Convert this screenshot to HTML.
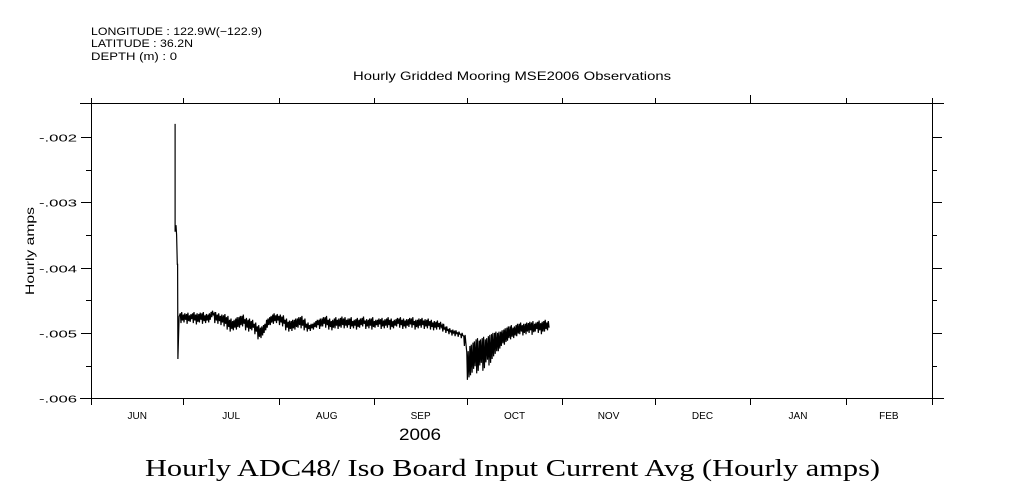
<!DOCTYPE html>
<html><head><meta charset="utf-8"><style>
html,body{margin:0;padding:0;background:#fff;}
svg{display:block;}
text{font-family:"Liberation Sans",sans-serif;fill:#000;}
</style></head><body>
<svg id="chart" width="1009" height="504" viewBox="0 0 1009 504">
<g font-size="11">
<text x="91" y="35" textLength="171" lengthAdjust="spacingAndGlyphs">LONGITUDE : 122.9W(−122.9)</text>
<text x="91" y="47" textLength="102" lengthAdjust="spacingAndGlyphs">LATITUDE : 36.2N</text>
<text x="91" y="60" textLength="86" lengthAdjust="spacingAndGlyphs">DEPTH (m) : 0</text>
</g>
<text x="353" y="80" font-size="12" textLength="318" lengthAdjust="spacingAndGlyphs">Hourly Gridded Mooring MSE2006 Observations</text>
<text x="34" y="251" font-size="12" text-anchor="middle" textLength="88" lengthAdjust="spacingAndGlyphs" transform="rotate(-90 34 251)">Hourly amps</text>
<text x="399" y="440" font-size="17" textLength="42" lengthAdjust="spacingAndGlyphs">2006</text>
<text x="145" y="476" font-size="24" textLength="735" lengthAdjust="spacingAndGlyphs" style="font-family:'Liberation Serif',serif">Hourly ADC48/ Iso Board Input Current Avg (Hourly amps)</text>
<g id="axes" stroke="#000" stroke-width="1" fill="none"></g>
<g id="labels" font-size="10"></g>
<path id="series" fill="none" stroke="#000" stroke-width="1.2"/>
</svg>
<script>
// tick labels / categories
const monthLabels = ["JUN","JUL","AUG","SEP","OCT","NOV","DEC","JAN","FEB"];
const monthLengths = [30,31,31,30,31,30,31,31,28];
const yTickValues = [-2,-3,-4,-5,-6];
const yTickLabels = ["-.002","-.003","-.004","-.005","-.006"];
// initial transient (day offset from Jun 1, value in milliamps)
const spikeDays = [27.3,27.3,27.6,27.8,28.0,28.1,28.2,28.6];
const spikeVals = [-1.8,-3.45,-3.35,-3.5,-3.95,-3.95,-5.4,-4.75];
// daily envelope starting at day 29
const startDay = 29;
const dailyHigh = [-4.70,-4.72,-4.71,-4.73,-4.70,-4.72,-4.71,-4.70,-4.73,-4.72,-4.68,-4.70,
-4.72,-4.74,-4.73,-4.76,-4.80,-4.82,-4.78,-4.76,-4.74,-4.79,-4.80,
-4.82,-4.86,-4.90,-4.92,-4.88,-4.80,-4.76,
-4.72,-4.73,-4.74,-4.75,-4.80,-4.83,-4.82,-4.80,
-4.78,-4.76,-4.80,-4.86,-4.88,-4.86,-4.82,-4.80,-4.78,-4.76,-4.80,-4.82,-4.78,-4.80,-4.77,-4.78,
-4.80,-4.78,-4.82,-4.79,-4.80,-4.77,-4.81,-4.80,-4.78,-4.82,-4.80,-4.79,-4.81,-4.78,-4.80,-4.82,-4.79,-4.78,-4.80,-4.81,-4.79,-4.78,-4.82,-4.80,-4.79,-4.81,-4.80,-4.82,-4.84,-4.83,
-4.85,-4.88,-4.92,-4.95,-4.97,-4.98,-5.00,-5.02,-5.05,
-5.30,-5.20,-5.15,-5.10,-5.12,-5.08,-5.10,-5.05,-5.02,-5.00,
-5.00,-4.98,-4.95,-4.92,-4.90,-4.92,-4.88,-4.86,-4.88,
-4.86,-4.85,-4.84,-4.86,-4.83,-4.85,-4.82,-4.84];
const dailyLow = [-4.85,-4.84,-4.86,-4.83,-4.85,-4.87,-4.84,-4.86,-4.85,-4.84,-4.76,-4.85,
-4.86,-4.88,-4.90,-4.95,-4.98,-4.96,-4.95,-4.92,-4.90,-4.96,-4.98,
-4.96,-5.02,-5.10,-5.08,-5.00,-4.92,-4.88,
-4.86,-4.85,-4.88,-4.90,-4.96,-4.98,-4.97,-4.95,
-4.92,-4.93,-4.96,-4.98,-4.97,-4.95,-4.92,-4.94,-4.90,-4.92,-4.95,-4.96,-4.93,-4.94,-4.92,-4.93,
-4.92,-4.94,-4.93,-4.95,-4.92,-4.90,-4.94,-4.93,-4.95,-4.92,-4.91,-4.94,-4.93,-4.92,-4.95,-4.93,-4.90,-4.92,-4.94,-4.93,-4.91,-4.92,-4.95,-4.93,-4.92,-4.94,-4.93,-4.95,-4.96,-4.95,
-4.95,-4.98,-5.00,-5.02,-5.04,-5.05,-5.06,-5.08,-5.20,
-5.72,-5.65,-5.55,-5.62,-5.50,-5.58,-5.45,-5.50,-5.40,-5.32,
-5.28,-5.20,-5.18,-5.12,-5.10,-5.08,-5.05,-5.02,-5.04,
-5.02,-5.00,-5.03,-4.98,-5.00,-5.02,-4.98,-4.96];

const X0=91, X1=932, Y0=103, Y1=398, totalDays=273;
const xs = d => X0 + d*(X1-X0)/totalDays;
const ys = v => 137 + (-2 - v)*65.3;
const NS="http://www.w3.org/2000/svg";
const axes=document.getElementById('axes'), labels=document.getElementById('labels');
function line(x1,y1,x2,y2,name){
  const l=document.createElementNS(NS,'line');
  l.setAttribute('x1',x1);l.setAttribute('y1',y1);l.setAttribute('x2',x2);l.setAttribute('y2',y2);
  
  
  axes.appendChild(l);
}
line(80,Y0+0.5,944,Y0+0.5,'top-axis');
line(80,Y1+0.5,944,Y1+0.5,'bottom-axis');
line(X0+0.5,Y0,X0+0.5,Y1,'left-axis');
line(X1+0.5,Y0,X1+0.5,Y1,'right-axis');
let d=0;
for(let i=0;i<=monthLabels.length;i++){
  const x=Math.round(xs(d))+0.5;
  line(x,i===7?95:98,x,Y0,'top-tick');
  line(x,Y1,x,405,'bottom-tick');
  if(i<monthLabels.length){
    const t=document.createElementNS(NS,'text');
    t.setAttribute('x',xs(d+monthLengths[i]/2));t.setAttribute('y',419);
    t.setAttribute('text-anchor','middle');t.textContent=monthLabels[i];
    
    
    labels.appendChild(t);
    d+=monthLengths[i];
  }
}
yTickValues.forEach((v,i)=>{
  const y=Math.round(ys(v))+0.5;
  line(X0-10,y,X0,y,'y-major-tick');
  line(X1,y,X1+10,y,'y-major-tick-right');
  const t=document.createElementNS(NS,'text');
  t.setAttribute('x',39);t.setAttribute('y',y+4);
  t.setAttribute('textLength',38);t.setAttribute('lengthAdjust','spacingAndGlyphs');
  t.textContent=yTickLabels[i];
  
  
  labels.appendChild(t);
  if(i<yTickValues.length-1){
    const ym=Math.round(ys(v-0.5))+0.5;
    line(X0-5,ym,X0,ym,'y-minor-tick');
    line(X1,ym,X1+5,ym,'y-minor-tick-right');
  }
});
let p='';
spikeDays.forEach((dd,i)=>{p+=(i?'L':'M')+xs(dd).toFixed(1)+' '+ys(spikeVals[i]).toFixed(1);});
dailyHigh.forEach((h,i)=>{
  const dd=startDay+i;
  p+='L'+xs(dd).toFixed(1)+' '+ys(h).toFixed(1);
  p+='L'+xs(dd+0.2).toFixed(1)+' '+ys(dailyLow[i]).toFixed(1);
  p+='L'+xs(dd+0.45).toFixed(1)+' '+ys(h+0.02).toFixed(1);
  p+='L'+xs(dd+0.7).toFixed(1)+' '+ys(dailyLow[i]+0.04).toFixed(1);
});
document.getElementById('series').setAttribute('d',p);
</script>
</body></html>
